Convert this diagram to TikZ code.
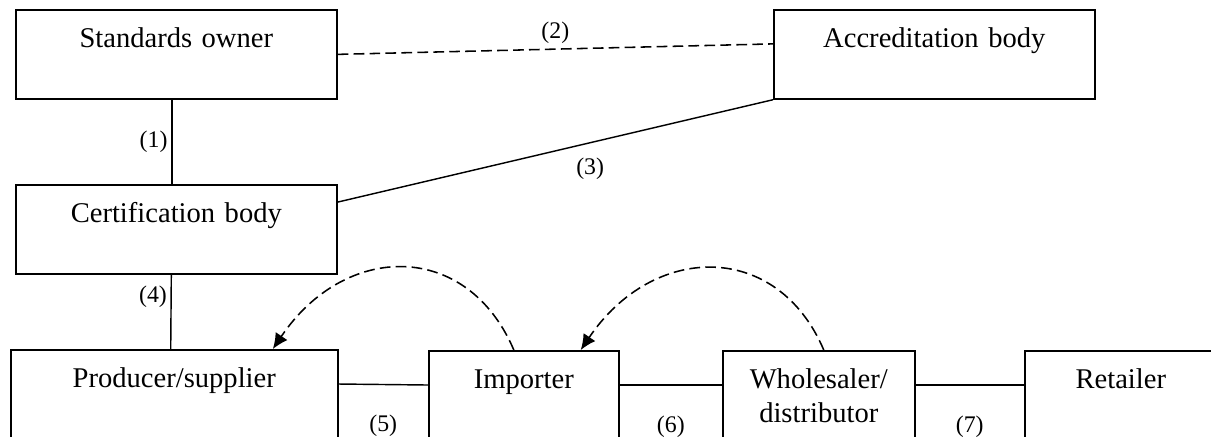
\documentclass[tikz,border=0pt]{standalone}
\usepackage{fontspec}
\setmainfont{Liberation Serif}
\usetikzlibrary{arrows.meta}

\begin{document}
\begin{tikzpicture}[x=0.42pt,y=0.42pt,
  box/.style={draw=black, line width=0.7pt, anchor=north west, inner sep=0pt, align=center, text height=16pt, text depth=21.4pt, font=\fontsize{12}{13.9}\selectfont},
  tag/.style={inner sep=1.5pt, font=\fontsize{10}{12}\selectfont},
  link/.style={black, line width=0.6pt},
  back/.style={black, line width=0.65pt, dash pattern=on 4.5pt off 2.2pt, -{Latex[length=6.5pt,width=6pt]}}]
\useasboundingbox (0,0) rectangle (1211,-436);
\clip (0,0) rectangle (1211,-436);
\node [box, text width=134.8pt] (owner) at (15,-9) {Standards owner};
\node [box, text width=134.8pt] (accr) at (773,-9) {Accreditation body};
\node [box, text width=134.8pt] (cert) at (15,-184) {Certification body};
\node [box, text width=137.3pt] (prod) at (10,-349) {Producer/supplier};
\node [box, text width=79.8pt] (imp) at (428,-350) {Importer};
\node [box, text width=80.6pt] (whole) at (722,-350) {Wholesaler/\\distributor};
\node [box, text width=80.6pt] (ret) at (1024,-350) {Retailer};
\draw [link] ([xshift=-1.9pt]owner.south) -- node [tag, left] {(1)} ([xshift=-1.9pt]cert.north);
\draw [link, line width=0.65pt, dash pattern=on 4.5pt off 2.2pt] (owner.east) -- node [tag, above=0.5pt] {(2)} ([yshift=4.4pt]accr.west);
\draw [link] ([yshift=-7.6pt]cert.north east) -- node [tag, below=4.5pt, pos=0.58] {(3)} (accr.south west);
\draw [link] ([xshift=-2.1pt]cert.south) -- node [tag, left, pos=0.3] {(4)} ([xshift=-1.5pt]prod.north);
\draw [link] ([yshift=-14.7pt]prod.north east) -- node [tag, below=11pt] {(5)} ([yshift=-14.7pt]imp.north west);
\draw [link] ([yshift=-14.7pt]imp.north east) -- node [tag, below=11pt] {(6)} ([yshift=-14.7pt]whole.north west);
\draw [link] ([yshift=-14.7pt]whole.north east) -- node [tag, below=11pt] {(7)} ([yshift=-14.7pt]ret.north west);
\draw [back] ([xshift=-4.2pt]imp.north) .. controls +(-47,110) and +(72,107) .. ([xshift=41.4pt]prod.north);
\draw [back] ([xshift=2.1pt]whole.north) .. controls +(-47,110) and +(72,107) .. ([xshift=23.9pt]imp.north);
\end{tikzpicture}
\end{document}
